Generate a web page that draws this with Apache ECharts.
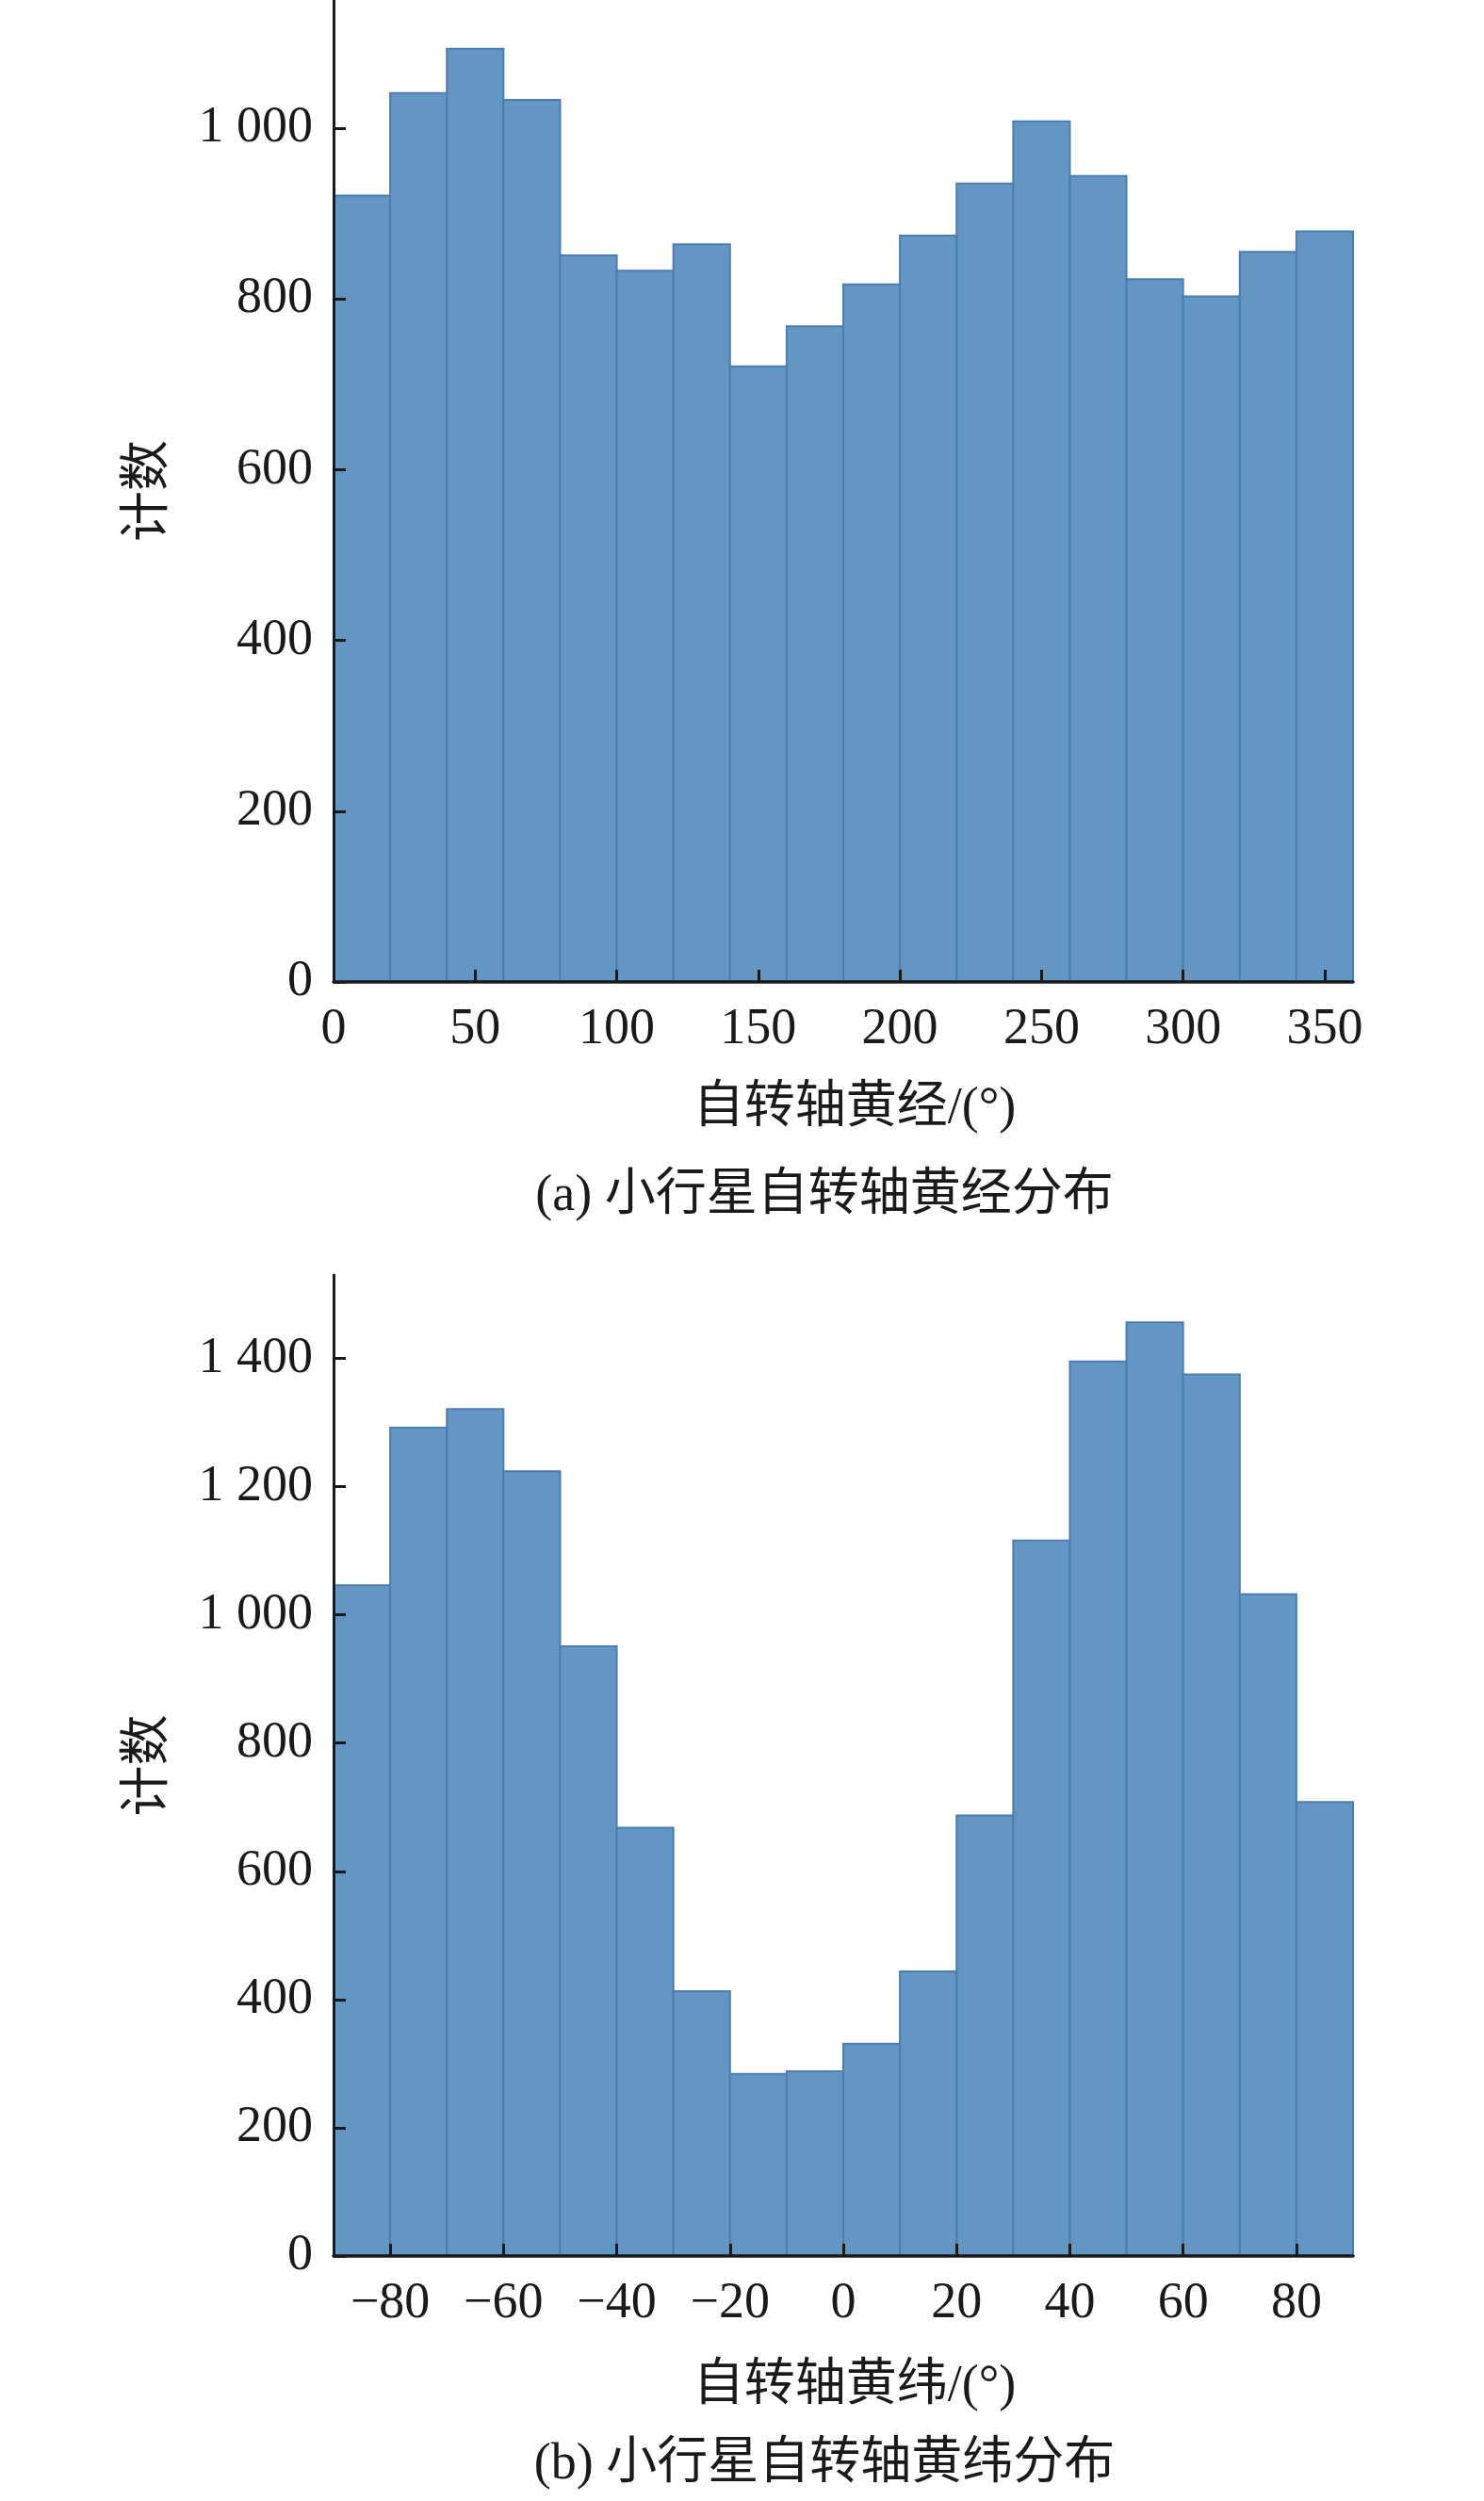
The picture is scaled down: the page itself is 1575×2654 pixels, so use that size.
<!DOCTYPE html>
<html>
<head>
<meta charset="utf-8">
<script src="https://cdn.jsdelivr.net/npm/echarts@6/dist/echarts.min.js"></script>
<style>
html,body{margin:0;padding:0;background:#fff;}
#chart{width:1575px;height:2654px;}
</style>
</head>
<body>
<div id="chart"></div>
<script>
// ---- Data ----
const lonBinEdges = [0, 20, 40, 60, 80, 100, 120, 140, 160, 180, 200, 220, 240, 260, 280, 300, 320, 340, 360];
const lonCounts = [921, 1041, 1093, 1033, 851, 833, 864, 721, 768, 817, 874, 935, 1008, 944, 823, 803, 855, 879];
const latBinEdges = [-90, -80, -70, -60, -50, -40, -30, -20, -10, 0, 10, 20, 30, 40, 50, 60, 70, 80, 90];
const latCounts = [1046, 1292, 1321, 1224, 951, 668, 413, 284, 288, 331, 444, 687, 1116, 1395, 1456, 1375, 1032, 708];
const lonTicks = [0, 50, 100, 150, 200, 250, 300, 350];
const latTicks = [-80, -60, -40, -20, 0, 20, 40, 60, 80];
const countTicksA = [0, 200, 400, 600, 800, 1000];
const countTicksB = [0, 200, 400, 600, 800, 1000, 1200, 1400];
const lonAxisName = '自转轴黄经/(°)';
const latAxisName = '自转轴黄纬/(°)';
const countAxisName = '计数';
const captionA = '(a) 小行星自转轴黄经分布';
const captionB = '(b) 小行星自转轴黄纬分布';

const FONT = "'Liberation Serif', 'Noto Sans CJK SC', serif";
const FS = 54;
const AXIS_COLOR = '#1a1a1a';
const TEXT_COLOR = '#1a1a1a';

function toBins(edges, counts) {
  const out = [];
  for (let i = 0; i < counts.length; i++) out.push([edges[i], edges[i + 1], counts[i]]);
  return out;
}
function fmtNum(v) {
  const s = String(Math.abs(v)).replace(/\B(?=(\d{3})+(?!\d))/g, ' ');
  return v < 0 ? '\u2212' + s : s;
}
function renderItem(params, api) {
  const p0 = api.coord([api.value(0), api.value(2)]);
  const p1 = api.coord([api.value(1), 0]);
  return {
    type: 'rect',
    shape: { x: p0[0], y: p0[1], width: p1[0] - p0[0], height: p1[1] - p0[1] },
    style: { fill: '#6396c3', stroke: '#4b7db2', lineWidth: 2 }
  };
}

function xAxisCfg(idx, min, max, ticks, name, nameGap) {
  return {
    type: 'value', gridIndex: idx, min: min, max: max, z: 10,
    name: name, nameLocation: 'middle', nameGap: nameGap,
    nameTextStyle: { fontFamily: FONT, fontSize: FS, color: TEXT_COLOR, padding: [0, 0, 0, 24] },
    axisLine: { show: true, onZero: false, lineStyle: { color: AXIS_COLOR, width: 3.5 } },
    axisTick: { show: true, inside: true, length: 13, customValues: ticks, lineStyle: { color: AXIS_COLOR, width: 3 } },
    axisLabel: { customValues: ticks, margin: 24, fontFamily: FONT, fontSize: FS, color: TEXT_COLOR, formatter: fmtNum },
    splitLine: { show: false }
  };
}
function yAxisCfg(idx, max, ticks) {
  return {
    type: 'value', gridIndex: idx, min: 0, max: max, z: 10,
    name: countAxisName, nameLocation: 'middle', nameGap: 168,
    nameTextStyle: { fontFamily: FONT, fontSize: FS, color: TEXT_COLOR },
    axisLine: { show: true, onZero: false, lineStyle: { color: AXIS_COLOR, width: 3 } },
    axisTick: { show: true, inside: true, length: 13, customValues: ticks, lineStyle: { color: AXIS_COLOR, width: 3 } },
    axisLabel: { customValues: ticks, margin: 22, fontFamily: FONT, fontSize: FS, color: TEXT_COLOR, formatter: fmtNum },
    splitLine: { show: false }
  };
}

const chart = echarts.init(document.getElementById('chart'), null, { renderer: 'canvas' });
chart.setOption({
  animation: false,
  backgroundColor: '#ffffff',
  grid: [
    { left: 354, right: 139, top: 0, height: 1042 },
    { left: 354, right: 139, top: 1353, height: 1041 }
  ],
  xAxis: [
    xAxisCfg(0, 0, 360, lonTicks, lonAxisName, 108),
    xAxisCfg(1, -90, 90, latTicks, latAxisName, 112)
  ],
  yAxis: [
    yAxisCfg(0, 1150, countTicksA),
    yAxisCfg(1, 1530, countTicksB)
  ],
  series: [
    { type: 'custom', xAxisIndex: 0, yAxisIndex: 0, renderItem: renderItem,
      encode: { x: [0, 1], y: 2 }, data: toBins(lonBinEdges, lonCounts), z: 1 },
    { type: 'custom', xAxisIndex: 1, yAxisIndex: 1, renderItem: renderItem,
      encode: { x: [0, 1], y: 2 }, data: toBins(latBinEdges, latCounts), z: 1 }
  ],
  graphic: [
    { type: 'text', x: 875, y: 1270, style: { text: captionA, font: FS + 'px ' + FONT, fill: TEXT_COLOR, textAlign: 'center', textVerticalAlign: 'middle' } },
    { type: 'text', x: 875, y: 2616, style: { text: captionB, font: FS + 'px ' + FONT, fill: TEXT_COLOR, textAlign: 'center', textVerticalAlign: 'middle' } }
  ]
});
</script>
</body>
</html>
